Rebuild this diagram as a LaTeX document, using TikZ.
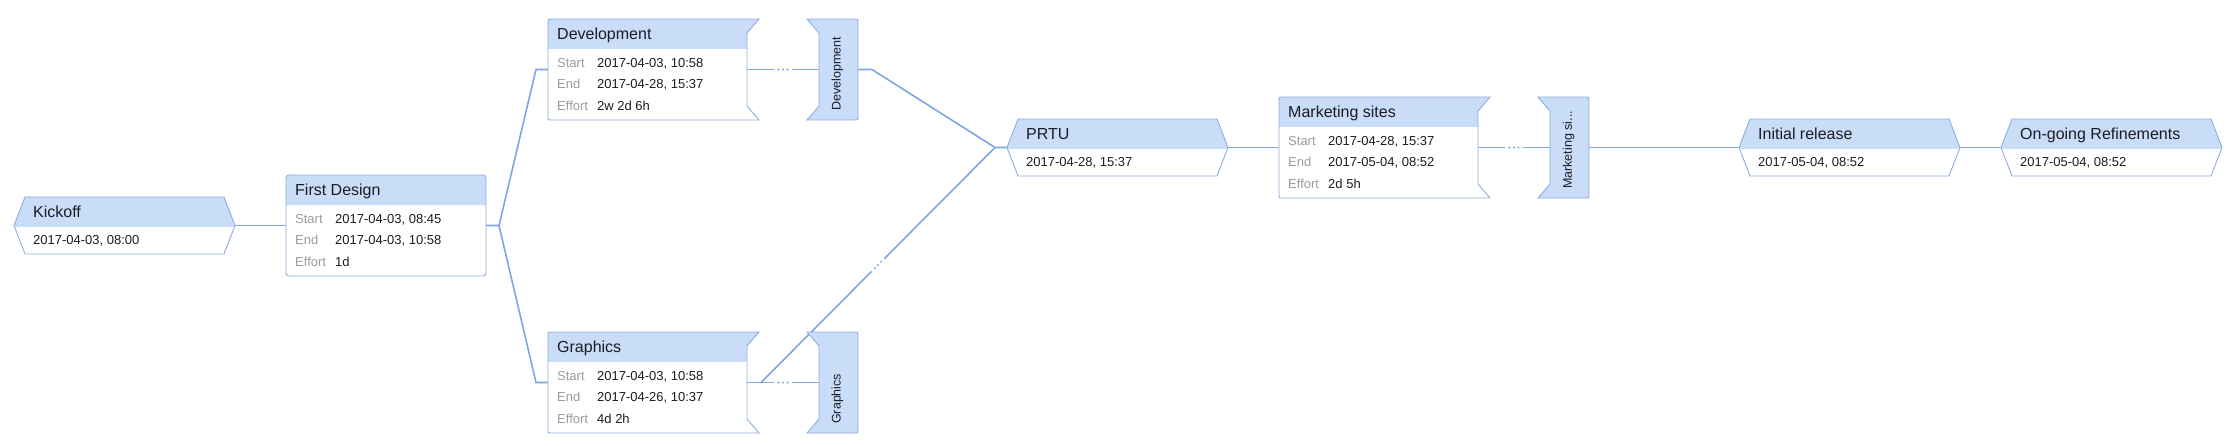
\documentclass[tikz,border=0pt]{standalone}
\usepackage{fontspec}
\setmainfont{Liberation Sans}
\usetikzlibrary{calc,fit,backgrounds}
\pgfdeclarelayer{paper}
\pgfsetlayers{paper,background,main}
\definecolor{hdr}{HTML}{C9DCF8}
\definecolor{bdr}{HTML}{8FAEDC}
\definecolor{lnk}{HTML}{7FA5E2}
\definecolor{lbl}{HTML}{9C9C9C}
\definecolor{txt}{HTML}{1C1C24}
\newcommand\ftitle{\fontsize{16}{19}\selectfont}
\newcommand\fbody{\fontsize{13}{15}\selectfont}
\newcommand\fmark{\fontsize{12.5}{14}\selectfont}
\tikzset{
  conn/.style={draw=lnk, line width=1.6pt},
  outline/.style={draw=bdr, line width=0.9pt},
  ttl/.style={anchor=base west, inner sep=0pt, font=\ftitle, text=txt},
  lab/.style={anchor=base west, inner sep=0pt, font=\fbody, text=lbl},
  val/.style={anchor=base west, inner sep=0pt, font=\fbody, text=txt},
  mtxt/.style={anchor=west, inner sep=0pt, rotate=90, font=\fmark, text=txt},
  holder/.style={inner sep=0pt, outer sep=0pt},
}
% #1 name, #2 L, #3 T, #4 right edge of body, #5 notch 1/0, #6 title, #7 start, #8 end, #9 effort
\newcommand\taskbox[9]{%
  \ifnum#5=1
    \draw[outline, fill=white, path picture={\fill[hdr] (#2-2,#3-2) rectangle (#4+14,#3+30);}]
      (#4+12,#3) -- (#4,#3+14) -- (#4,#3+87) -- (#4+12,#3+101) -- (#2+3,#3+101)
      .. controls (#2,#3+101) .. (#2,#3+98) -- (#2,#3+3) .. controls (#2,#3) .. (#2+3,#3) -- cycle;
  \else
    \draw[outline, fill=white, rounded corners=3pt, path picture={\fill[hdr] (#2-2,#3-2) rectangle (#4+2,#3+30);}]
      (#2,#3) rectangle (#4,#3+101);
  \fi
  \node[holder, fit={(#2,#3) (#4,#3+101)}] (#1) {};
  \node[ttl] (#1-t) at (#2+9,#3+20.5) {#6};
  \node[lab] (#1-sl) at (#2+9,#3+48) {Start};
  \node[val] (#1-sv) at (#2+49,#3+48) {#7};
  \node[lab] (#1-el) at (#2+9,#3+69.5) {End};
  \node[val] (#1-ev) at (#2+49,#3+69.5) {#8};
  \node[lab] (#1-fl) at (#2+9,#3+91) {Effort};
  \node[val] (#1-fv) at (#2+49,#3+91) {#9};
}
% #1 name, #2 left tip x, #3 T, #4 title, #5 date
\newcommand\msbox[5]{%
  \draw[outline, fill=white, path picture={\fill[hdr] (#2-2,#3-2) rectangle (#2+223,#3+30);}]
    (#2,#3+28.5) -- (#2+11,#3) -- (#2+210,#3) -- (#2+221,#3+28.5) -- (#2+210,#3+57) -- (#2+11,#3+57) -- cycle;
  \node[holder, fit={(#2,#3) (#2+221,#3+57)}] (#1) {};
  \node[ttl] (#1-t) at (#2+19,#3+20.5) {#4};
  \node[val] (#1-d) at (#2+19,#3+47.5) {#5};
}
% #1 name, #2 L outer, #3 T, #4 text
\newcommand\mkbox[4]{%
  \draw[outline, fill=hdr]
    (#2,#3) -- (#2+48,#3) .. controls (#2+51,#3) .. (#2+51,#3+3) -- (#2+51,#3+98)
    .. controls (#2+51,#3+101) .. (#2+48,#3+101) -- (#2,#3+101) -- (#2+12,#3+87) -- (#2+12,#3+14) -- cycle;
  \node[holder, fit={(#2+12,#3) (#2+51,#3+101)}] (#1) {};
  \node[mtxt] (#1-t) at (#2+30.5,#3+92) {#4};
}
\newcommand\gapconn[2]{%
  \coordinate (gm) at ($(#1)!0.5!(#2)$);
  \draw[conn] (#1) -- ($(gm)!9pt!(#1)$);
  \draw[conn] ($(gm)!9pt!(#2)$) -- (#2);
  \fill[lnk] ($(gm)!4.5pt!(#1)$) circle (1.1pt) (gm) circle (1.1pt) ($(gm)!4.5pt!(#2)$) circle (1.1pt);
}
\begin{document}
\begin{tikzpicture}[x=1pt,y=-1pt]
\useasboundingbox (0,0) rectangle (2233,445);
\begin{pgfonlayer}{paper}
\fill[white] (0,0) rectangle (2233,445);
\end{pgfonlayer}

\msbox{kick}{14}{197}{Kickoff}{2017-04-03, 08:00}
\taskbox{fd}{286}{175}{486}{0}{First Design}{2017-04-03, 08:45}{2017-04-03, 10:58}{1d}
\taskbox{dev}{548}{19}{747}{1}{Development}{2017-04-03, 10:58}{2017-04-28, 15:37}{2w 2d 6h}
\taskbox{gr}{548}{332}{747}{1}{Graphics}{2017-04-03, 10:58}{2017-04-26, 10:37}{4d 2h}
\mkbox{devm}{807}{19}{Development}
\mkbox{grm}{807}{332}{Graphics}
\msbox{prtu}{1007}{119}{PRTU}{2017-04-28, 15:37}
\taskbox{ms}{1279}{97}{1478}{1}{Marketing sites}{2017-04-28, 15:37}{2017-05-04, 08:52}{2d 5h}
\mkbox{msm}{1538}{97}{Marketing si...}
\msbox{ir}{1739}{119}{Initial release}{2017-05-04, 08:52}
\msbox{og}{2001}{119}{On-going Refinements}{2017-05-04, 08:52}

\begin{scope}[on background layer]
  \draw[conn] (kick.east) -- (fd.west);
  \coordinate (j1) at ([xshift=13pt]fd.east);
  \draw[conn] (fd.east) -- (j1) -- ([xshift=-12pt]dev.west) -- (dev.west);
  \draw[conn] (j1) -- ([xshift=-12pt]gr.west) -- (gr.west);
  \gapconn{dev.east}{devm.west}
  \coordinate (j2) at ([xshift=-12pt]prtu.west);
  \draw[conn] (devm.east) -- ([xshift=14pt]devm.east) -- (j2) -- (prtu.west);
  \coordinate (j3) at ([xshift=14pt]gr.east);
  \gapconn{gr.east}{grm.west}
  \gapconn{j3}{j2}
  \draw[conn] (prtu.east) -- (ms.west);
  \gapconn{ms.east}{msm.west}
  \draw[conn] (msm.east) -- (ir.west);
  \draw[conn] (ir.east) -- (og.west);
\end{scope}
\end{tikzpicture}
\end{document}
